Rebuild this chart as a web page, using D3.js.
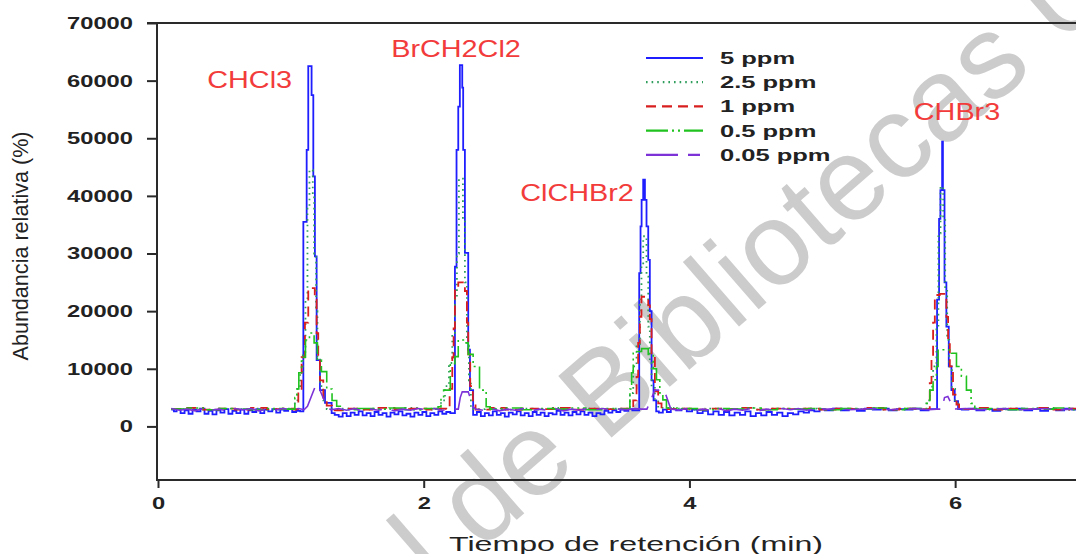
<!DOCTYPE html>
<html><head><meta charset="utf-8">
<script src="https://cdn.jsdelivr.net/npm/d3@7/dist/d3.min.js"></script>
<style>body{margin:0;background:#fff;overflow:hidden}svg{display:block}</style>
</head><body><svg id="c" width="1076" height="554"></svg>
<script>
// ---------------- DATA ----------------
const seriesNames = ["5 ppm", "2.5 ppm", "1 ppm", "0.5 ppm", "0.05 ppm"];
const yTickValues = [0, 10000, 20000, 30000, 40000, 50000, 60000, 70000];
const xTickValues = [0, 2, 4, 6];
const peakNames = ["CHCl3", "BrCH2Cl2", "ClCHBr2", "CHBr3"];
const peakLabelTime = [0.69, 2.243, 3.154, 6.014];
const peakLabelValue = [58770, 64150, 39150, 53200];

const s5ppm = [
[0.10,2900],[0.12,2600],[0.14,3000],[0.17,2300],[0.20,2800],[0.23,2200],[0.26,2900],[0.29,2600],[0.32,3100],[0.35,2200],[0.38,2700],[0.41,2100],[0.44,2800],[0.47,2400],[0.50,3000],[0.53,2200],[0.56,2700],[0.59,2300],[0.62,2900],[0.65,2200],[0.68,2800],[0.71,2500],[0.74,3000],[0.77,2300],[0.80,2900],[0.83,2600],[0.86,3000],[0.89,2400],[0.92,2900],[0.95,2700],[0.98,3000],[1.01,2500],[1.04,2700],[1.07,2600],
[1.094,35500],[1.119,48000],[1.131,62500],[1.156,57500],[1.169,43400],[1.181,29500],[1.194,11500],[1.219,6300],[1.257,4100],[1.307,2300],
[1.33,2000],[1.36,1700],[1.39,2300],[1.42,1800],[1.45,2400],[1.48,2000],[1.51,2600],[1.54,1900],[1.57,2300],[1.60,1800],[1.63,2500],[1.66,2000],[1.69,2300],[1.72,1700],[1.75,2400],[1.78,2100],[1.81,2600],[1.84,1900],[1.87,2200],[1.90,1700],[1.93,2400],[1.96,2000],[1.99,2500],[2.02,1800],[2.05,2300],[2.08,2000],[2.11,2600],[2.14,2200],[2.17,2500],[2.20,2300],
[2.235,27700],[2.247,48000],[2.26,55500],[2.272,62700],[2.29,58800],[2.297,48000],[2.31,30100],[2.335,13300],[2.348,6300],[2.372,2000],
[2.40,2500],[2.43,1800],[2.46,2300],[2.49,1900],[2.52,2600],[2.55,2000],[2.58,2300],[2.61,1700],[2.64,2400],[2.67,2100],[2.70,2600],[2.73,1900],[2.76,2300],[2.79,1800],[2.82,2500],[2.85,2000],[2.88,2400],[2.91,1800],[2.94,2300],[2.97,2100],[3.00,2700],[3.03,2000],[3.06,2400],[3.09,1900],[3.12,2500],[3.15,2100],[3.18,2600],[3.21,2000],[3.24,2400],[3.27,1800],[3.30,2300],[3.33,2100],[3.36,2700],[3.39,2400],[3.42,2800],[3.45,2500],[3.48,2900],[3.51,2700],[3.54,3000],[3.57,2800],
[3.622,26600],[3.632,34700],[3.64,39300],[3.652,42800],[3.665,39300],[3.677,34700],[3.69,28900],[3.702,20000],[3.715,8000],[3.73,4500],[3.75,2600],
[3.77,2400],[3.80,2900],[3.83,2500],[3.86,3000],[3.90,2800],[3.94,3000],[3.98,2600],[4.02,2900],[4.06,2300],[4.10,2700],[4.14,2100],[4.18,2600],[4.22,2000],[4.26,2500],[4.30,1900],[4.34,2400],[4.38,2000],[4.42,2600],[4.46,1800],[4.50,2300],[4.54,1900],[4.58,2500],[4.62,2000],[4.66,2400],[4.70,1800],[4.74,2300],[4.78,2100],[4.82,2600],[4.86,2400],[4.90,2800],[4.94,2600],[4.98,3000],
[5.02,2800],[5.08,3100],[5.14,2800],[5.20,3000],[5.26,2700],[5.32,3100],[5.38,2900],[5.44,3100],[5.50,2800],[5.56,3000],[5.62,2900],[5.68,3100],[5.74,2800],[5.80,3000],
[5.864,22000],[5.879,36000],[5.889,41000],[5.902,49400],[5.908,41000],[5.92,25000],[5.934,17300],[5.952,10400],[5.972,6300],[5.997,4400],[6.022,3000],
[6.05,2900],[6.10,3100],[6.16,2800],[6.22,3000],[6.28,2700],[6.34,3000],[6.40,2900],[6.46,3100],[6.52,2800],[6.58,3000],[6.64,2700],[6.70,3000],[6.76,2800],[6.82,3100],[6.88,2900],[6.94,3000],[7.0,2900]
];

const s2_5ppm = [
[0.10,3000],[0.22,3100],[0.34,2900],[0.46,3100],[0.58,3000],[0.70,3100],[0.82,2900],[0.94,3100],
[1.03,4000],[1.05,6500],[1.07,9500],[1.09,13000],[1.11,22000],[1.125,38000],[1.14,44500],[1.165,40000],[1.175,30000],[1.19,20000],[1.20,12000],[1.22,7000],[1.245,4500],[1.27,3000],
[1.38,3100],[1.50,2900],[1.62,3100],[1.74,3000],[1.86,3200],[1.98,2900],[2.06,3100],
[2.10,3000],[2.13,4500],[2.16,7000],[2.19,11000],[2.215,16000],[2.235,22000],[2.25,30000],[2.265,43000],[2.295,36000],[2.31,25000],[2.325,14000],[2.34,8000],[2.355,3000],
[2.46,3100],[2.58,2900],[2.70,3100],[2.82,3000],[2.94,3200],[3.06,2900],[3.18,3100],[3.30,3000],[3.42,3100],
[3.53,3000],[3.552,5800],[3.577,10400],[3.602,13900],[3.627,22200],[3.639,28000],[3.652,33000],[3.677,26000],[3.69,17300],[3.702,11500],[3.715,6900],[3.74,4600],[3.765,3200],
[3.88,3100],[4.00,2900],[4.12,3100],[4.24,3000],[4.36,3200],[4.48,2900],[4.60,3100],[4.72,3000],[4.84,3100],[4.96,2900],[5.08,3100],[5.20,3000],[5.32,3200],[5.44,2900],[5.56,3100],[5.68,3000],
[5.77,3000],[5.784,4500],[5.81,6900],[5.834,10400],[5.859,17300],[5.874,33500],[5.89,41600],[5.91,36000],[5.925,24000],[5.94,15000],[5.955,10400],[5.975,6500],[6.0,4000],[6.02,3000],
[6.14,3100],[6.26,2900],[6.38,3100],[6.50,3000],[6.62,3200],[6.74,2900],[6.86,3100],[7.0,3000]
];

const s1ppm = [
[0.10,3000],[0.22,3200],[0.34,2900],[0.46,3100],[0.58,2900],[0.70,3200],[0.82,3000],[0.94,3100],[1.02,2900],
[1.04,3000],[1.056,6000],[1.081,12000],[1.106,18000],[1.131,24000],[1.18,22000],[1.194,16200],[1.206,12100],[1.219,8000],[1.244,5000],[1.27,3600],[1.31,2800],
[1.42,3100],[1.54,2900],[1.66,3200],[1.78,3000],[1.90,3100],[2.02,2900],[2.12,3100],
[2.17,3000],[2.195,6500],[2.215,12000],[2.225,17000],[2.235,24000],[2.26,25000],[2.31,23500],[2.325,18000],[2.335,12500],[2.35,7000],[2.37,4000],[2.39,2900],
[2.50,3200],[2.62,2900],[2.74,3100],[2.86,3000],[2.98,3200],[3.10,2900],[3.22,3100],[3.34,3000],[3.46,3100],[3.56,3000],
[3.577,4500],[3.602,8600],[3.614,14500],[3.627,19000],[3.639,22500],[3.69,21000],[3.702,18600],[3.715,11900],[3.74,6100],[3.765,4000],[3.79,3000],
[3.90,3100],[4.02,2900],[4.14,3100],[4.26,3000],[4.38,3200],[4.50,2900],[4.62,3100],[4.74,3000],[4.86,3100],[4.98,2900],[5.10,3100],[5.22,3000],[5.34,3200],[5.46,2900],[5.58,3100],[5.70,3000],
[5.80,3000],[5.809,7500],[5.822,12000],[5.834,18000],[5.847,22800],[5.884,23000],[5.934,19000],[5.947,15000],[5.96,10400],[5.984,5500],[6.01,3800],[6.03,3000],
[6.14,3200],[6.26,2900],[6.38,3100],[6.50,3000],[6.62,3200],[6.74,2900],[6.86,3100],[7.0,3000]
];

const s0_5ppm = [
[0.10,3000],[0.22,3200],[0.34,2900],[0.46,3100],[0.58,3000],[0.70,2900],[0.82,3100],[0.94,3000],
[1.00,3000],[1.03,5000],[1.045,6500],[1.06,9300],[1.08,12000],[1.11,15000],[1.14,16200],[1.175,14500],[1.20,11500],[1.23,9500],[1.27,6500],[1.31,4500],[1.345,3500],[1.39,2900],
[1.50,3100],[1.62,3000],[1.74,3200],[1.86,2900],[1.98,3100],
[2.09,3000],[2.108,3400],[2.13,5000],[2.15,6300],[2.2,10900],[2.235,12100],[2.26,15000],[2.31,14500],[2.335,12500],[2.372,10400],[2.42,6300],[2.47,3400],[2.50,3000],
[2.62,3200],[2.74,2900],[2.86,3100],[2.98,3000],[3.10,3200],[3.22,2900],[3.34,3100],[3.46,3000],
[3.53,3000],[3.552,6500],[3.565,9300],[3.577,12700],[3.59,13000],[3.64,13500],[3.69,12500],[3.727,10000],[3.752,8100],[3.777,5800],[3.80,4600],[3.827,3200],
[3.94,3100],[4.06,2900],[4.18,3100],[4.30,3000],[4.42,3200],[4.54,2900],[4.66,3100],[4.78,3000],[4.90,3100],[5.02,2900],[5.14,3100],[5.26,3000],[5.38,3200],[5.50,2900],[5.62,3100],
[5.77,3000],[5.784,4000],[5.81,6300],[5.834,8100],[5.859,10400],[5.872,13300],[5.96,13300],[5.972,12700],[6.01,10400],[6.047,8700],[6.085,6300],[6.12,4000],[6.148,3000],
[6.26,3100],[6.38,2900],[6.50,3100],[6.62,3000],[6.74,3200],[6.86,2900],[7.0,3000]
];

const s0_05ppm = [
[0.10,3100],[0.16,2800],[0.22,3000],[0.28,2700],[0.34,3100],[0.40,2800],[0.46,3000],[0.52,2700],[0.58,3100],[0.64,2900],[0.70,3100],[0.76,2700],[0.82,3000],[0.88,2800],[0.94,3100],[1.00,2900],[1.06,3100],
[1.10,2900],[1.125,3500],[1.19,7300],[1.215,6500],[1.27,3500],[1.30,2900],
[1.36,3100],[1.42,2800],[1.48,3100],[1.54,2700],[1.60,3000],[1.66,2800],[1.72,3100],[1.78,2700],[1.84,3000],[1.90,2800],[1.96,3100],[2.02,2900],[2.08,3100],[2.14,2800],[2.20,3000],
[2.26,3000],[2.275,5000],[2.29,6000],[2.335,6000],[2.37,3500],[2.39,3000],
[2.45,2800],[2.51,3100],[2.57,2700],[2.63,3000],[2.69,2800],[2.75,3100],[2.81,2700],[2.87,3000],[2.93,2800],[2.99,3100],[3.05,2700],[3.11,3000],[3.17,2800],[3.23,3100],[3.29,2900],[3.35,3100],[3.41,2800],[3.47,3000],[3.53,2900],[3.59,3100],[3.64,3000],
[3.68,3000],[3.74,6300],[3.81,6300],[3.86,3000],
[3.92,2800],[3.98,3100],[4.04,2700],[4.10,3000],[4.16,2800],[4.22,3100],[4.28,2700],[4.34,3000],[4.40,2800],[4.46,3100],[4.52,2700],[4.58,3000],[4.64,2800],[4.70,3100],[4.76,2900],[4.82,3100],[4.88,2800],[4.94,3000],[5.00,2900],[5.10,3100],[5.20,2900],[5.30,3000],[5.40,3100],[5.50,2900],[5.60,3000],[5.70,3100],[5.80,2900],[5.86,3000],
[5.90,3000],[5.92,5000],[5.945,5200],[5.97,4000],[5.99,3000],
[6.08,3100],[6.18,2900],[6.28,3000],[6.38,3100],[6.48,2900],[6.58,3000],[6.68,3100],[6.78,2900],[6.88,3000],[7.0,2900]
];

const seriesData = [s5ppm, s2_5ppm, s1ppm, s0_5ppm, s0_05ppm];

// ---------------- STYLE ----------------
const styles = [
  {color: "#1e1eff", dash: null, width: 1.8, curve: d3.curveStepAfter},
  {color: "#2f9e5c", dash: "1.6,4", width: 1.8, curve: d3.curveStepAfter},
  {color: "#d81e1e", dash: "10,6", width: 1.8, curve: d3.curveStepAfter},
  {color: "#1fc21f", dash: "22,4,2,4,2,4", width: 1.6, curve: d3.curveStepAfter},
  {color: "#7d32d8", dash: "32,10,12,10", width: 1.6, curve: d3.curveLinear}
];
const FONT = "'Liberation Sans', Arial, sans-serif";

const svg = d3.select("#c");
const x = d3.scaleLinear().domain([0, 7]).range([158, 1088]);
const y = d3.scaleLinear().domain([-9300, 70000]).range([480, 23]);

function fitWidth(sel, w) {
  sel.each(function() {
    this.setAttribute("textLength", w);
    this.setAttribute("lengthAdjust", "spacingAndGlyphs");
  });
}
function stretch(sel, sx) {
  sel.each(function() {
    const w = this.getComputedTextLength();
    this.setAttribute("textLength", w * sx);
    this.setAttribute("lengthAdjust", "spacingAndGlyphs");
  });
}

// watermark (behind)
svg.append("text")
  .attr("transform", "translate(436,590) rotate(-41)")
  .attr("font-family", FONT).attr("font-size", 118)
  .attr("fill", "#cccccc")
  .text("l de Bibliotecas U");

// series lines
const plot = svg.append("g");
seriesData.forEach((d, i) => {
  const st = styles[i];
  const line = d3.line().x(p => x(p[0])).y(p => y(p[1])).curve(st.curve);
  plot.append("path").datum(d)
    .attr("d", line)
    .attr("fill", "none")
    .attr("stroke", st.color)
    .attr("stroke-width", st.width)
    .attr("stroke-dasharray", st.dash)
    .attr("stroke-linejoin", "miter");
});

// axes
const axisColor = "#2a2a2a";
const yAxis = svg.append("g").attr("transform", `translate(${x(0) - 1},0)`)
  .call(d3.axisLeft(y).tickValues(yTickValues).tickSize(10).tickPadding(14).tickFormat(d3.format("d")));
yAxis.select(".domain").remove();
yAxis.append("line").attr("x1", 0).attr("x2", 0).attr("y1", y(70000)).attr("y2", y(-9300)).attr("stroke", axisColor).attr("stroke-width", 2);
yAxis.selectAll(".tick line").attr("stroke", axisColor).attr("stroke-width", 2);
yAxis.selectAll(".tick text").attr("font-family", FONT).attr("font-size", 17).attr("font-weight", "bold").attr("fill", "#222");
const w70 = (function(){ let w=0; yAxis.selectAll(".tick text").each(function(d){ if(d===70000) w=this.getComputedTextLength(); }); return w; })();
stretch(yAxis.selectAll(".tick text"), 66 / w70);

// top frame line
svg.append("line").attr("x1", x(0) - 11).attr("x2", 1076).attr("y1", y(70000)).attr("y2", y(70000))
  .attr("stroke", axisColor).attr("stroke-width", 2);

const xAxis = svg.append("g").attr("transform", `translate(0,${y(-9300)})`)
  .call(d3.axisBottom(x).tickValues(xTickValues).tickSize(8).tickPadding(9).tickFormat(d3.format("d")));
xAxis.select(".domain").remove();
xAxis.append("line").attr("x1", x(0) - 2).attr("x2", 1076).attr("y1", 0).attr("y2", 0).attr("stroke", axisColor).attr("stroke-width", 2);
xAxis.selectAll(".tick line").attr("stroke", axisColor).attr("stroke-width", 2);
xAxis.selectAll(".tick text").attr("font-family", FONT).attr("font-size", 17).attr("font-weight", "bold").attr("fill", "#222");
stretch(xAxis.selectAll(".tick text"), 66 / w70);

// axis titles
const xt = svg.append("text").attr("x", 636).attr("y", 551).attr("text-anchor", "middle")
  .attr("font-family", FONT).attr("font-size", 21).attr("fill", "#222")
  .text("Tiempo de retención (min)");
fitWidth(xt, 374);

const yt = svg.append("text").attr("transform", "translate(28,246) rotate(-90)").attr("text-anchor", "middle")
  .attr("font-family", FONT).attr("font-size", 22).attr("fill", "#222")
  .text("Abundancia relativa (%)");
fitWidth(yt, 229);

// peak labels
peakNames.forEach((n, i) => {
  const t = svg.append("text").attr("x", x(peakLabelTime[i])).attr("y", y(peakLabelValue[i]))
    .attr("text-anchor", "middle").attr("font-family", FONT).attr("font-size", 24)
    .attr("fill", "#f23b3b").text(n);
  stretch(t, 1.2);
});

// legend
const lg = svg.append("g");
seriesNames.forEach((n, i) => {
  const st = styles[i];
  const yy = 58 + i * 24.2;
  lg.append("line").attr("x1", 646).attr("x2", 703).attr("y1", yy).attr("y2", yy)
    .attr("stroke", st.color).attr("stroke-width", 2.2).attr("stroke-dasharray", st.dash);
  lg.append("text").attr("x", 720).attr("y", yy + 6).attr("font-family", FONT)
    .attr("font-size", 17).attr("font-weight", "bold").attr("fill", "#222").text(n);
});
stretch(lg.selectAll("text"), 1.5);
</script>
</body></html>
